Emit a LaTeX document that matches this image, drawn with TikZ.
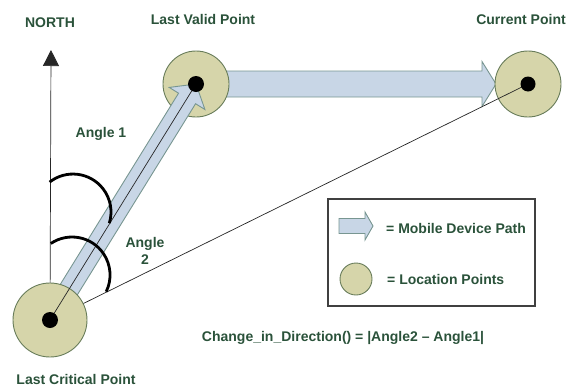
\documentclass[tikz,border=0pt]{standalone}
\usepackage{fontspec}
\setmainfont{Liberation Sans}
\usetikzlibrary{calc,arrows.meta}
\definecolor{txtgreen}{RGB}{42,82,58}
\definecolor{locfill}{RGB}{214,213,170}
\definecolor{locdraw}{RGB}{104,124,90}
\definecolor{arrfill}{RGB}{200,214,230}
\definecolor{arrdraw}{RGB}{120,150,145}
\begin{document}
\begin{tikzpicture}[x=1pt,y=-1pt,
  lbl/.style={text=txtgreen,font=\fontsize{14}{17}\selectfont\bfseries,inner sep=0pt},
  locpt/.style={circle,fill=locfill,draw=locdraw,line width=0.9pt,inner sep=0pt},
  dotpt/.style={circle,fill=black,inner sep=0pt,minimum size=16pt},
  patharrow/.style={fill=arrfill,draw=arrdraw,line width=0.9pt,line join=miter},
  thinline/.style={draw=black!85,line width=0.7pt},
  anglearc/.style={draw=black,line width=2.8pt}]
\useasboundingbox (0,0) rectangle (570,386);
% coordinates for location centres
\coordinate (lcpc) at (50,320);
\coordinate (lvpc) at (196,84);
\coordinate (curc) at (528,84);
\coordinate (northtip) at (51,50);
\coordinate (hztip) at (496,84);
\coordinate (dgtip) at (196,84);
% north arrow
\draw[thinline,-{Triangle[width=16pt,length=16pt]}] (lcpc) -- (northtip);
% horizontal path arrow
\draw[patharrow] (196,71) -- (482,71) -- (482,61.5) -- (hztip) -- (482,106.5) -- (482,97) -- (196,97) -- cycle;
% location points
\node[locpt,minimum size=66pt] (lvp) at (lvpc) {};
\node[locpt,minimum size=66pt] (cur) at (curc) {};
% line to current
\draw[thinline] (lcpc) -- (curc);
% diagonal arrow
\coordinate (dA) at (lcpc);
\coordinate (dH) at ($(dgtip)!17pt!(dA)$);
\draw[patharrow]
  ($(dA)!10pt!-90:(dgtip)$) -- ($(dH)!10pt!90:(dA)$) -- ($(dH)!21pt!90:(dA)$) -- (dgtip)
  -- ($(dH)!21pt!-90:(dA)$) -- ($(dH)!10pt!-90:(dA)$) -- ($(dA)!10pt!90:(dgtip)$) -- cycle;
\node[locpt,minimum size=74pt] (lcp) at (lcpc) {};
\draw[thinline] (lcp.center) -- (lvp.center);
% dots
\node[dotpt] (lcpd) at (lcpc) {};
\node[dotpt] (lvpd) at (lvpc) {};
\node[dotpt,minimum size=15pt] (curd) at (curc) {};
% angle arcs
\coordinate (a1s) at (49.6,182.1);
\draw[anglearc] (a1s) arc[start angle=-128,end angle=17,radius=38];
\coordinate (a2s) at (50.8,243.5);
\draw[anglearc] (a2s) arc[start angle=-124,end angle=26,radius=38];
% labels
\node[lbl] (tnorth) at (50,23) {NORTH};
\node[lbl] (tlvp) at (203,19) {Last Valid Point};
\node[lbl] (tcur) at (521,19) {Current Point};
\node[lbl] (ta1) at (101,134) {Angle 1};
\node[lbl,align=center] (ta2) at (145,251) {Angle\\2};
\node[lbl] (tlcp) at (76,379) {Last Critical Point};
\node[lbl] (tfor) at (343,338) {Change\_in\_Direction() = |Angle2 – Angle1|};
% legend
\node[draw=black!75,line width=1.1pt,minimum width=207pt,minimum height=107pt,inner sep=0pt] (legend) at (431.5,252.5) {};
\draw[patharrow] (339,218.5) -- (365,218.5) -- (365,212) -- (373,226) -- (365,240) -- (365,233.5) -- (339,233.5) -- cycle;
\node[lbl,anchor=west] (tmob) at (386,228) {= Mobile Device Path};
\node[locpt,minimum size=32pt] (legc) at (356,279) {};
\node[lbl,anchor=west] (tloc) at (387,279) {= Location Points};
\end{tikzpicture}
\end{document}
